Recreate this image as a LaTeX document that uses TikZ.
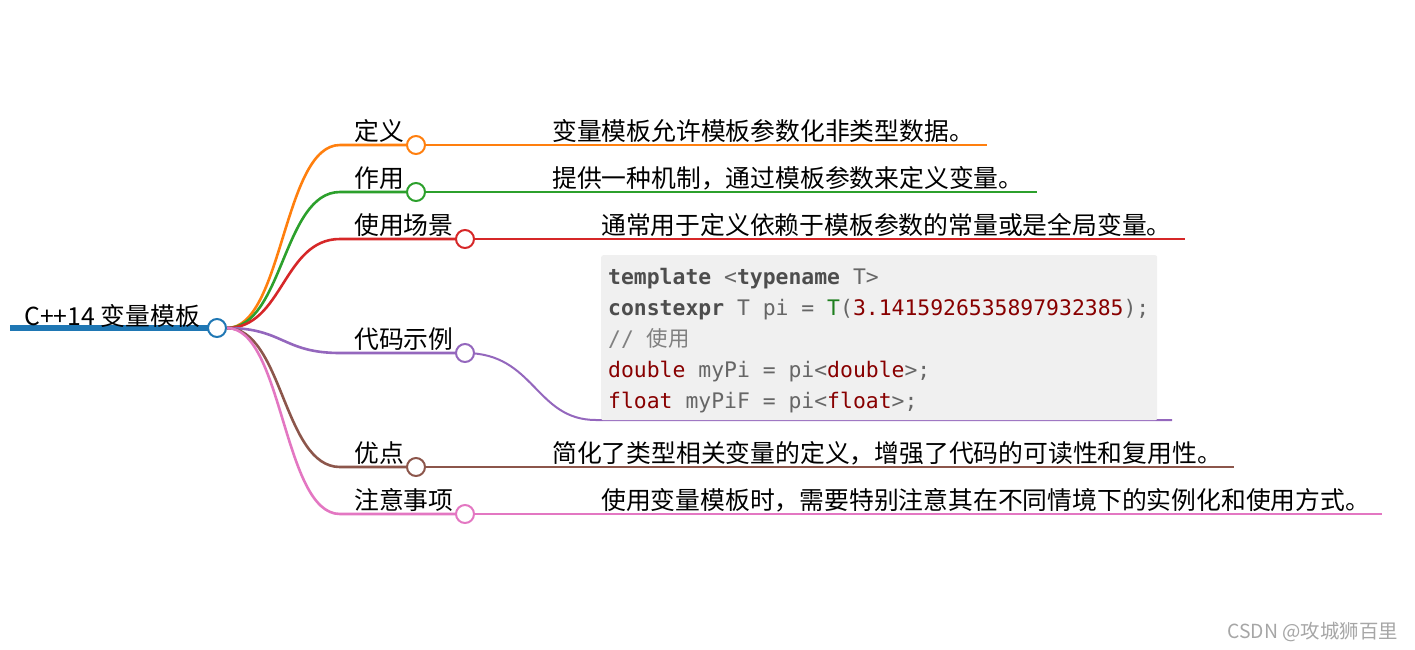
\documentclass[tikz,border=0pt]{standalone}
\usepackage{fontspec}
\setmainfont{Noto Sans CJK SC}
\newfontfamily\codefont{DejaVu Sans Mono}
\newfontfamily\cjkfont{Noto Sans CJK SC}
\usetikzlibrary{backgrounds}
\definecolor{cblue}{HTML}{1F77B4}
\definecolor{corange}{HTML}{FF7F0E}
\definecolor{cgreen}{HTML}{2CA02C}
\definecolor{cred}{HTML}{D62728}
\definecolor{cpurple}{HTML}{9467BD}
\definecolor{cbrown}{HTML}{8C564B}
\definecolor{cpink}{HTML}{E377C2}
\definecolor{codebg}{HTML}{F0F0F0}
\definecolor{codekw}{HTML}{4D4D4D}
\definecolor{codetx}{HTML}{666666}
\definecolor{coderd}{HTML}{880000}
\definecolor{codegr}{HTML}{1E7F1E}
\definecolor{codecm}{HTML}{808080}
\definecolor{wmark}{HTML}{A6A6A6}
\tikzset{
  dot/.style={circle, minimum size=18pt, inner sep=0pt, fill=white, line width=2pt},
  curve/.style={line width=2.6pt},
  leafline/.style={line width=2pt},
  lbl/.style={anchor=base west, inner sep=0pt, font=\fontsize{24.8}{24.8}\selectfont},
  leaf/.style={anchor=base west, inner sep=0pt, font=\fontsize{24.8}{24.8}\selectfont},
  codeline/.style={anchor=base west, inner sep=0pt, font=\codefont\fontsize{21.4}{21.4}\selectfont, text=codetx},
  codebox/.style={anchor=north west, fill=codebg, inner sep=0pt, minimum width=556pt, minimum height=165pt, rounded corners=2pt},
}
\newcommand{\kw}[1]{\textcolor{codekw}{\bfseries #1}}
\newcommand{\rd}[1]{\textcolor{coderd}{#1}}
\begin{document}
\begin{tikzpicture}[x=1pt,y=-1pt]
\useasboundingbox (0,0) rectangle (1415,649);
% root
\coordinate (rs) at (10,328);
\node[dot, draw=cblue] (rc) at (217,328) {};
\node[lbl] (root) at (24,325) {C++14 变量模板};
% circles
\node[dot, draw=corange] (c1) at (416,145) {};
\node[dot, draw=cgreen]  (c2) at (416,192) {};
\node[dot, draw=cred]    (c3) at (465,239) {};
\node[dot, draw=cpurple] (c4) at (465,353) {};
\node[dot, draw=cbrown]  (c5) at (416,467) {};
\node[dot, draw=cpink]   (c6) at (465,514) {};
% coordinates
\coordinate (s1) at (340,145); \coordinate (e1) at (987,145);
\coordinate (s2) at (340,192); \coordinate (e2) at (1037,192);
\coordinate (s3) at (340,239); \coordinate (e3) at (1185,239);
\coordinate (s4) at (340,353); \coordinate (k4) at (596,420); \coordinate (e4) at (1172,420);
\coordinate (s5) at (340,467); \coordinate (e5) at (1234,467);
\coordinate (s6) at (340,514); \coordinate (e6) at (1382,514);
% labels
\node[lbl] (l1) at (354,140) {定义};
\node[lbl] (l2) at (354,187) {作用};
\node[lbl] (l3) at (354,234) {使用场景};
\node[lbl] (l4) at (354,348) {代码示例};
\node[lbl] (l5) at (354,462) {优点};
\node[lbl] (l6) at (354,509) {注意事项};
% leaves
\node[leaf] (t1) at (552,140) {变量模板允许模板参数化非类型数据。};
\node[leaf] (t2) at (552,187) {提供一种机制，通过模板参数来定义变量。};
\node[leaf] (t3) at (601,234) {通常用于定义依赖于模板参数的常量或是全局变量。};
\node[leaf] (t5) at (552,462) {简化了类型相关变量的定义，增强了代码的可读性和复用性。};
\node[leaf] (t6) at (601,509) {使用变量模板时，需要特别注意其在不同情境下的实例化和使用方式。};
% code block
\node[codebox] (code) at (601,255) {};
\node[codeline] (k1) at (608,284) {\kw{template} <\kw{typename} T>};
\node[codeline] (k2) at (608,315) {\kw{constexpr} T pi = \textcolor{codegr}{T}(\rd{3.1415926535897932385});};
\node[codeline] (k3) at (608,346) {\textcolor{codecm}{// {\cjkfont 使用}}};
\node[codeline] (k4t) at (608,377) {\rd{double} myPi = pi<\rd{double}>;};
\node[codeline] (k5) at (608,408) {\rd{float} myPiF = pi<\rd{float}>;};
% watermark
\node[anchor=base east, inner sep=0pt, font=\fontsize{19.4}{19.4}\selectfont, text=wmark] (wm) at (1398,638) {CSDN @攻城狮百里};
\begin{pgfonlayer}{background}
\draw[line width=6pt, cblue] (rs) -- (rc.center);
\draw[curve, corange] (rc.east) .. controls (283,328) and (283,145) .. (s1) -- (c1.center);
\draw[curve, cgreen]  (rc.east) .. controls (283,328) and (283,192) .. (s2) -- (c2.center);
\draw[curve, cred]    (rc.east) .. controls (283,328) and (283,239) .. (s3) -- (c3.center);
\draw[curve, cpurple] (rc.east) .. controls (283,328) and (283,353) .. (s4) -- (c4.center);
\draw[curve, cbrown]  (rc.east) .. controls (283,328) and (283,467) .. (s5) -- (c5.center);
\draw[curve, cpink]   (rc.east) .. controls (283,328) and (283,514) .. (s6) -- (c6.center);
\draw[leafline, corange] (c1.center) -- (e1);
\draw[leafline, cgreen]  (c2.center) -- (e2);
\draw[leafline, cred]    (c3.center) -- (e3);
\draw[leafline, cpurple] (c4.center) .. controls (535,353) and (535,420) .. (k4) -- (e4);
\draw[leafline, cbrown]  (c5.center) -- (e5);
\draw[leafline, cpink]   (c6.center) -- (e6);
\end{pgfonlayer}
\end{tikzpicture}
\end{document}
